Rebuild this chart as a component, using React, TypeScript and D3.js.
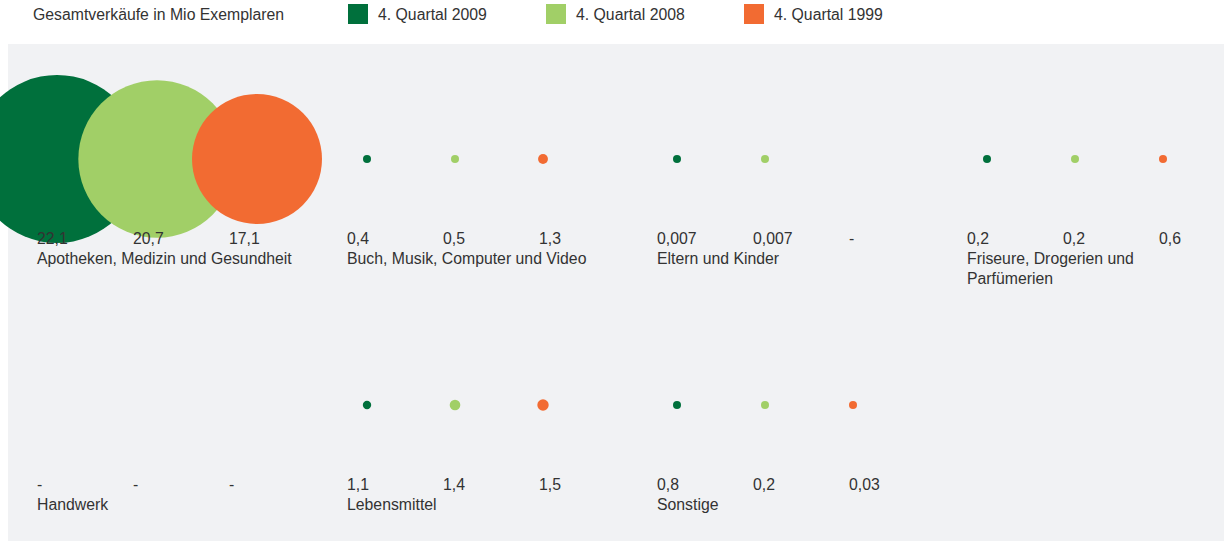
import React, { useEffect, useRef } from "react";
import * as d3 from "d3";

// Gesamtverkäufe in Mio Exemplaren, null = "-"
const categories = [
  "Apotheken, Medizin und Gesundheit",
  "Buch, Musik, Computer und Video",
  "Eltern und Kinder",
  "Friseure, Drogerien und\nParfümerien",
  "Handwerk",
  "Lebensmittel",
  "Sonstige",
];
const q2009: (number | null)[] = [22.1, 0.4, 0.007, 0.2, null, 1.1, 0.8];
const q2008: (number | null)[] = [20.7, 0.5, 0.007, 0.2, null, 1.4, 0.2];
const q1999: (number | null)[] = [17.1, 1.3, null, 0.6, null, 1.5, 0.03];

const seriesNames = ["4. Quartal 2009", "4. Quartal 2008", "4. Quartal 1999"];
const colors = ["#00703c", "#a1cf67", "#f26b32"];

const W = 1224;
const H = 541;
const FONT = "'Liberation Sans', Arial, sans-serif";
const FS = 15.8;

export default function App() {
  const ref = useRef<SVGSVGElement>(null);

  useEffect(() => {
    const svg = d3.select(ref.current);
    svg.selectAll("*").remove();

    // panel
    svg.append("rect")
      .attr("x", 8).attr("y", 44)
      .attr("width", W - 8).attr("height", H - 44)
      .attr("fill", "#f1f2f4");

    // legend
    const legend = svg.append("g").attr("font-family", FONT).attr("font-size", FS).attr("fill", "#333");
    legend.append("text").attr("x", 33).attr("y", 20).text("Gesamtverkäufe in Mio Exemplaren");
    const legX = d3.scaleLinear().domain([0, 1]).range([348, 546]);
    seriesNames.forEach((s, i) => {
      legend.append("rect").attr("x", legX(i)).attr("y", 4).attr("width", 20).attr("height", 20).attr("fill", colors[i]);
      legend.append("text").attr("x", legX(i) + 30).attr("y", 20).text(s);
    });

    const series = [q2009, q2008, q1999];
    const maxV = d3.max(series.flat().filter((v): v is number => v != null)) as number;
    const r = d3.scaleLinear().domain([0, maxV]).range([0, 84]);

    // grid: 4 columns per row, 2 rows
    const colX = d3.scaleLinear().domain([0, 1]).range([37, 347]);
    const rowY = d3.scaleLinear().domain([0, 1]).range([159, 405]);
    const fmt = (v: number | null) => (v == null ? "-" : String(v).replace(".", ","));

    const g = svg.append("g").attr("font-family", FONT).attr("font-size", FS).attr("fill", "#333");

    categories.forEach((cat, ci) => {
      const col = ci % 4;
      const row = Math.floor(ci / 4);
      const x0 = colX(col);
      const cy = rowY(row);
      series.forEach((vals, si) => {
        const v = vals[ci];
        if (v != null) {
          const cx = x0 + 20 + si * 88 + (r(v) > 30 ? si * 12 : 0);
          g.append("circle")
            .attr("cx", cx)
            .attr("cy", cy)
            .attr("r", Math.max(4, r(v)))
            .attr("fill", colors[si]);
        }
      });
    });

    // labels on top
    categories.forEach((cat, ci) => {
      const col = ci % 4;
      const row = Math.floor(ci / 4);
      const x0 = colX(col);
      const cy = rowY(row);
      series.forEach((vals, si) => {
        g.append("text")
          .attr("x", x0 + si * 96)
          .attr("y", cy + 85)
          .text(fmt(vals[ci]));
      });
      cat.split("\n").forEach((line, li) => {
        g.append("text")
          .attr("x", x0)
          .attr("y", cy + 105 + li * 20)
          .text(line);
      });
    });
  }, []);

  return (
    <svg
      ref={ref}
      width={W}
      height={H}
      style={{ position: "absolute", left: 0, top: 0, background: "#fff" }}
    />
  );
}
